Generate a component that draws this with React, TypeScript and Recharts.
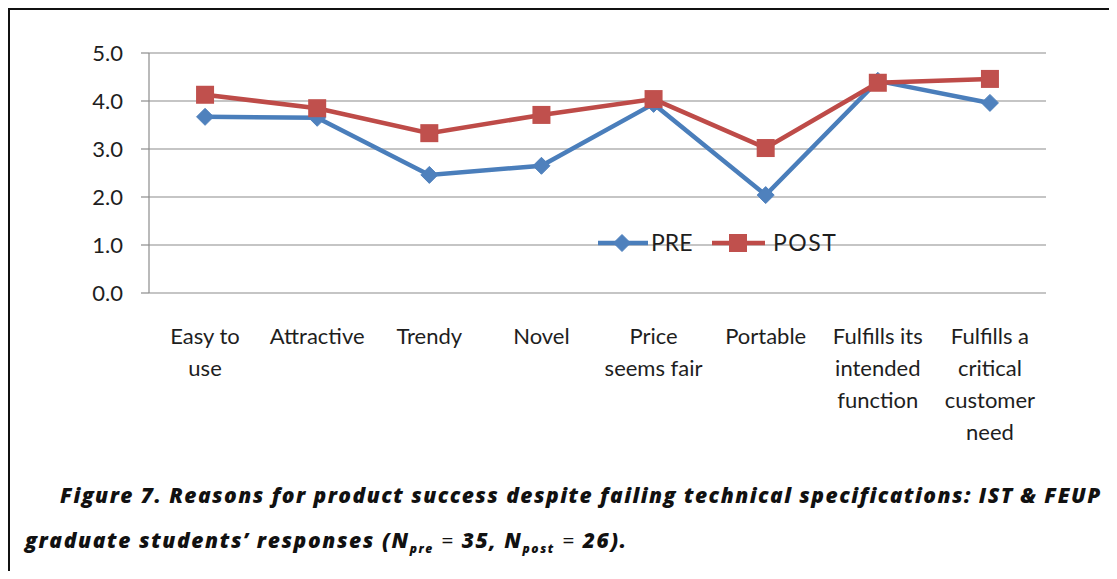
import { CartesianGrid, Legend, Line, LineChart, XAxis, YAxis } from "recharts";

const categories = [
  "Easy to\nuse",
  "Attractive",
  "Trendy",
  "Novel",
  "Price\nseems fair",
  "Portable",
  "Fulfills its\nintended\nfunction",
  "Fulfills a\ncritical\ncustomer\nneed",
];
const preValues = [3.67, 3.65, 2.46, 2.65, 3.94, 2.04, 4.42, 3.96];
const postValues = [4.13, 3.85, 3.33, 3.71, 4.04, 3.02, 4.38, 4.46];
const yTicks = [0, 1, 2, 3, 4, 5];
const boundaryTicks = [0, 1, 2, 3, 4, 5, 6, 7, 8];

const data = categories.map((name, i) => ({ name, pre: preValues[i], post: postValues[i] }));

const BLUE_LINE = "#4a7ebb";
const BLUE_FILL = "#4f81bd";
const RED_LINE = "#be4b48";
const RED_FILL = "#c0504d";
const AXIS = "#8c8c8c";
const TEXT = "#1e1e1e";
const FONT = "Lato, 'Liberation Sans', sans-serif";

const Diamond = ({ cx, cy, r = 8.5 }: any) => (
  <path d={`M${cx},${cy - r} L${cx + r},${cy} L${cx},${cy + r} L${cx - r},${cy} Z`} fill={BLUE_FILL} stroke={BLUE_FILL} />
);
const Square = ({ cx, cy, s = 9 }: any) => (
  <rect x={cx - s} y={cy - s} width={s * 2} height={s * 2} fill={RED_FILL} />
);

const CategoryTick = ({ x, y, payload }: any) => {
  const lines = String(payload.value).split("\n");
  return (
    <text x={x} y={y + 51} textAnchor="middle" fill={TEXT} fontSize={22} fontFamily={FONT}>
      {lines.map((l, i) => (
        <tspan key={i} x={x} dy={i === 0 ? 0 : 32}>
          {l}
        </tspan>
      ))}
    </text>
  );
};

const LegendContent = () => (
  <svg width={280} height={30}>
    <line x1={0} y1={15} x2={50} y2={15} stroke={BLUE_LINE} strokeWidth={4.5} />
    <Diamond cx={24} cy={15} />
    <text x={53} y={15} dy="0.36em" fontSize={23} fontFamily={FONT} fill={TEXT}>PRE</text>
    <line x1={114} y1={15} x2={167} y2={15} stroke={RED_LINE} strokeWidth={4.5} />
    <Square cx={140} cy={15} />
    <text x={175} y={15} dy="0.36em" fontSize={23} fontFamily={FONT} fill={TEXT} letterSpacing={1.5}>POST</text>
  </svg>
);

const captionStyle = {
  position: "absolute" as const,
  fontFamily: "'Open Sans', sans-serif",
  fontWeight: 800,
  fontStyle: "italic",
  fontSize: 21,
  lineHeight: "24px",
  letterSpacing: "1.45px",
  color: "#111",
  whiteSpace: "nowrap" as const,
};

export default function App() {
  return (
    <div
      style={{
        position: "relative",
        width: 1101,
        height: 563,
        borderTop: "2px solid #111",
        borderLeft: "2px solid #111",
        boxSizing: "border-box",
        overflow: "hidden",
        background: "#fff",
      }}
    >
      <div style={{ position: "absolute", left: -2, top: -2 }}>
        <LineChart width={1100} height={460} data={data} margin={{ top: 45, right: 62, left: 41, bottom: 25 }}>
          <CartesianGrid vertical={false} stroke={AXIS} strokeWidth={1.2} />
          <XAxis
            xAxisId="bounds"
            type="number"
            domain={[0, 8]}
            ticks={boundaryTicks}
            interval={0}
            height={0}
            tickSize={8}
            tickFormatter={() => ""}
            axisLine={{ stroke: AXIS, strokeWidth: 1.2 }}
            tickLine={{ stroke: AXIS, strokeWidth: 1.2 }}
          />
          <XAxis
            xAxisId="cat"
            dataKey="name"
            scale="band"
            interval={0}
            height={150}
            axisLine={false}
            tickLine={false}
            tickSize={0}
            tickMargin={0}
            tick={<CategoryTick />}
          />
          <YAxis
            domain={[0, 5]}
            ticks={yTicks}
            width={100}
            tickSize={8}
            tickMargin={18}
            tickFormatter={(v) => Number(v).toFixed(1)}
            tick={{ fill: TEXT, fontSize: 22, fontFamily: FONT }}
            axisLine={{ stroke: AXIS, strokeWidth: 1.2 }}
            tickLine={{ stroke: AXIS, strokeWidth: 1.2 }}
          />
          <Legend
            layout="horizontal"
            verticalAlign="middle"
            align="center"
            content={<LegendContent />}
            wrapperStyle={{ top: 220, left: 590, width: 280, height: 30 }}
          />
          <Line
            xAxisId="cat"
            dataKey="pre"
            name="PRE"
            stroke={BLUE_LINE}
            strokeWidth={4.5}
            dot={(p: any) => <Diamond key={`d${p.index}`} cx={p.cx} cy={p.cy} />}
            activeDot={false}
            isAnimationActive={false}
          />
          <Line
            xAxisId="cat"
            dataKey="post"
            name="POST"
            stroke={RED_LINE}
            strokeWidth={4.5}
            dot={(p: any) => <Square key={`s${p.index}`} cx={p.cx} cy={p.cy} />}
            activeDot={false}
            isAnimationActive={false}
          />
        </LineChart>
      </div>
      <div style={{ ...captionStyle, left: 50, top: 473 }}>
        Figure 7. Reasons for product success despite failing technical specifications: IST &amp; FEUP
      </div>
      <div style={{ ...captionStyle, left: 15, top: 518, letterSpacing: "1.6px" }}>
        graduate students’ responses (N<sub style={{ fontSize: 12, lineHeight: 0 }}>pre</sub>
        <span style={{ fontWeight: 400 }}> = </span>35, N<sub style={{ fontSize: 12, lineHeight: 0 }}>post</sub>
        <span style={{ fontWeight: 400 }}> = </span>26).
      </div>
    </div>
  );
}
